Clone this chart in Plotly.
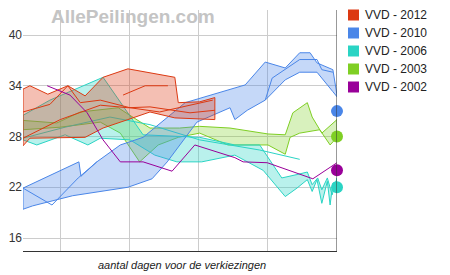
import plotly.graph_objects as go

# ---------------- data (days before election, VVD %) ----------------
series_names = ["VVD - 2012", "VVD - 2010", "VVD - 2006", "VVD - 2003", "VVD - 2002"]
colors = ["#dc3912", "#4a86e8", "#2ad4c4", "#7fcf24", "#990099"]
fills = ["rgba(220,57,18,0.32)", "rgba(74,134,232,0.32)", "rgba(42,212,196,0.33)",
         "rgba(127,207,36,0.30)", "rgba(153,0,153,0.3)"]

# 2012 band + inner poll lines
d12_up = [-455, -445, -419, -390, -365, -339, -303, -235, -230, -199, -177]
v12_up = [33.6, 34.0, 33.0, 34.0, 32.8, 35.0, 36.0, 35.0, 32.0, 32.1, 32.6]
d12_lo = [-455, -445, -365, -339, -303, -271, -235, -177]
v12_lo = [26.9, 27.8, 27.9, 29.0, 30.0, 30.9, 30.2, 30.0]
d12_a = [-455, -416, -390, -372, -343, -300, -257, -180]
v12_a = [30.9, 31.8, 34.0, 32.0, 32.3, 31.4, 30.9, 32.3]
d12_b = [-455, -401, -343, -303, -271, -213, -177]
v12_b = [27.8, 30.0, 31.7, 31.4, 31.5, 30.8, 31.1]
d12_c = [-310, -278, -245]
v12_c = [32.9, 34.0, 34.0]

# 2010 band + inner lines
d10_up = [-455, -374, -371, -348, -314, -281, -220, -148, -133, -104, -75, -54, -39, -29, -6, 0]
v10_up = [21.9, 25.0, 23.3, 25.0, 27.0, 27.9, 32.0, 33.7, 34.1, 36.8, 36.1, 37.9, 37.9, 36.7, 35.9, 32.9]
d10_lo = [-455, -441, -383, -303, -268, -246, -203, -155, -148, -130, -104, -75, -54, -29, -6, 0]
v10_lo = [19.4, 19.8, 21.0, 22.0, 23.0, 25.0, 29.7, 31.4, 30.0, 31.1, 32.3, 34.7, 35.6, 35.6, 33.3, 32.7]
d10_a = [-455, -413, -375, -348]
v10_a = [21.9, 19.9, 23.1, 25.0]
d10_b = [-104, -94, -54, -29, -22, -6]
v10_b = [32.3, 34.9, 37.1, 37.1, 35.9, 35.6]

# 2006 band
d06_up = [-455, -416, -339, -281, -199, -148, -112, -80, -58, -43, -36, -28, -22, -14, -7, 0]
v06_up = [30.5, 32.3, 35.0, 28.2, 27.9, 27.0, 27.0, 23.1, 23.5, 23.8, 22.3, 23.1, 21.7, 23.1, 21.1, 23.1]
d06_lo = [-455, -435, -394, -361, -343, -300, -264, -232, -196, -148, -107, -75, -58, -43,
          -36, -29, -22, -14, -10, -6, 0]
v06_lo = [27.6, 27.0, 28.2, 27.0, 27.8, 27.6, 25.8, 25.0, 25.0, 25.8, 24.0, 20.9, 21.9, 22.9,
          21.5, 22.9, 20.1, 22.7, 19.9, 22.5, 22.7]
d06_a = [-455, -394, -329, -271, -199, -112, -54]
v06_a = [27.8, 29.1, 30.3, 29.4, 27.6, 26.4, 25.3]

# 2003 band
d03_up = [-455, -406, -372, -317, -300, -271, -228, -199, -155, -100, -75, -64, -43, -36, -22, 0]
v03_up = [29.9, 29.6, 30.9, 31.4, 30.5, 29.0, 29.0, 29.2, 29.0, 28.3, 28.2, 30.8, 32.0, 30.3, 28.4, 30.0]
d03_lo = [-455, -401, -343, -314, -286, -259, -230, -199, -158, -100, -75, -68, -54, -25, -10, 0]
v03_lo = [28.8, 29.1, 29.7, 28.4, 25.0, 27.0, 27.9, 28.4, 27.0, 27.0, 25.9, 27.9, 28.4, 28.8, 27.0, 27.9]

# 2002 line
d02 = [-420, -387, -362, -339, -314, -281, -239, -206, -148, -136, -101, -35, 0]
v02 = [34.0, 32.9, 30.8, 27.6, 25.0, 25.0, 23.9, 27.0, 25.5, 25.0, 24.9, 23.0, 24.9]

# election results (day 0)
result_names = ["VVD - 2010", "VVD - 2003", "VVD - 2002", "VVD - 2006"]
result_values = [31, 28, 24, 22]

y_ticks = [16, 22, 28, 34, 40]
x_grid = [-400, -300, -200, -100]
x_title = "aantal dagen voor de verkiezingen"
watermark = "AllePeilingen.com"

# ---------------- figure ----------------
FONT = "Arial, 'Liberation Sans', sans-serif"
W, H = 450, 275
ML, MR, MT, MB = 23, 113, 10, 24
PW, PH = W - ML - MR, H - MT - MB


def px_x(px):
    return (px - ML) / PW


def px_y(py):
    return (H - MB - py) / PH


fig = go.Figure()


def band(du, vu, dl, vl, idx):
    fig.add_trace(go.Scatter(
        x=du + dl[::-1] + [du[0]], y=vu + vl[::-1] + [vu[0]],
        mode="lines", fill="toself", fillcolor=fills[idx],
        line=dict(color=colors[idx], width=1), hoverinfo="skip", showlegend=False))


def line(d, v, idx):
    fig.add_trace(go.Scatter(x=d, y=v, mode="lines",
                             line=dict(color=colors[idx], width=1),
                             hoverinfo="skip", showlegend=False))


band(d03_up, v03_up, d03_lo, v03_lo, 3)
band(d06_up, v06_up, d06_lo, v06_lo, 2)
line(d06_a, v06_a, 2)
band(d10_up, v10_up, d10_lo, v10_lo, 1)
line(d10_a, v10_a, 1)
line(d10_b, v10_b, 1)
band(d12_up, v12_up, d12_lo, v12_lo, 0)
line(d12_a, v12_a, 0)
line(d12_b, v12_b, 0)
line(d12_c, v12_c, 0)
line(d02, v02, 4)

for name, val in zip(result_names, result_values):
    idx = series_names.index(name)
    fig.add_trace(go.Scatter(x=[0], y=[val], mode="markers", cliponaxis=False,
                             marker=dict(color=colors[idx], size=12, line=dict(width=0)),
                             hoverinfo="skip", showlegend=False))

shapes = [dict(type="line", xref="x", yref="paper", x0=0, x1=0, y0=0, y1=1,
               line=dict(color="#333333", width=1))]
annotations = []
for i, name in enumerate(series_names):
    cy = 15 + i * 18
    shapes.append(dict(type="rect", xref="paper", yref="paper",
                       x0=px_x(348), x1=px_x(359), y0=px_y(cy + 5.5), y1=px_y(cy - 5.5),
                       fillcolor=colors[i], line=dict(width=0)))
    annotations.append(dict(xref="paper", yref="paper", x=px_x(363), y=px_y(cy),
                            xanchor="left", yanchor="middle", showarrow=False, text=name,
                            font=dict(family=FONT, size=12, color="#222222")))

annotations.append(dict(xref="paper", yref="paper", x=px_x(132.5), y=px_y(16),
                        xanchor="center", yanchor="middle", showarrow=False,
                        text="<b>" + watermark + "</b>",
                        font=dict(family=FONT, size=19, color="#c4c4c4")))
annotations.append(dict(xref="paper", yref="paper", x=px_x(182), y=px_y(265),
                        xanchor="center", yanchor="middle", showarrow=False,
                        text="<i>" + x_title + "</i>",
                        font=dict(family=FONT, size=11, color="#222222")))

y_top = 40 + 25 / 8.46
y_bot = 16 - 13 / 8.46

fig.update_layout(
    width=W, height=H, margin=dict(l=ML, r=MR, t=MT, b=MB),
    paper_bgcolor="white", plot_bgcolor="white", showlegend=False,
    font=dict(family=FONT, size=12, color="#333333"),
    xaxis=dict(range=[-455, 0], tickvals=x_grid, showticklabels=False, showgrid=True,
               gridcolor="#cccccc", gridwidth=1, zeroline=False, showline=True,
               linecolor="#333333", linewidth=1, ticks="", fixedrange=True),
    yaxis=dict(range=[y_bot, y_top], tickvals=y_ticks, showgrid=True, gridcolor="#cccccc",
               gridwidth=1, zeroline=False, showline=False, ticks="",
               tickfont=dict(family=FONT, size=12, color="#333333"), fixedrange=True),
    shapes=shapes, annotations=annotations,
)

fig.write_html("out.html", config={"displayModeBar": False})
